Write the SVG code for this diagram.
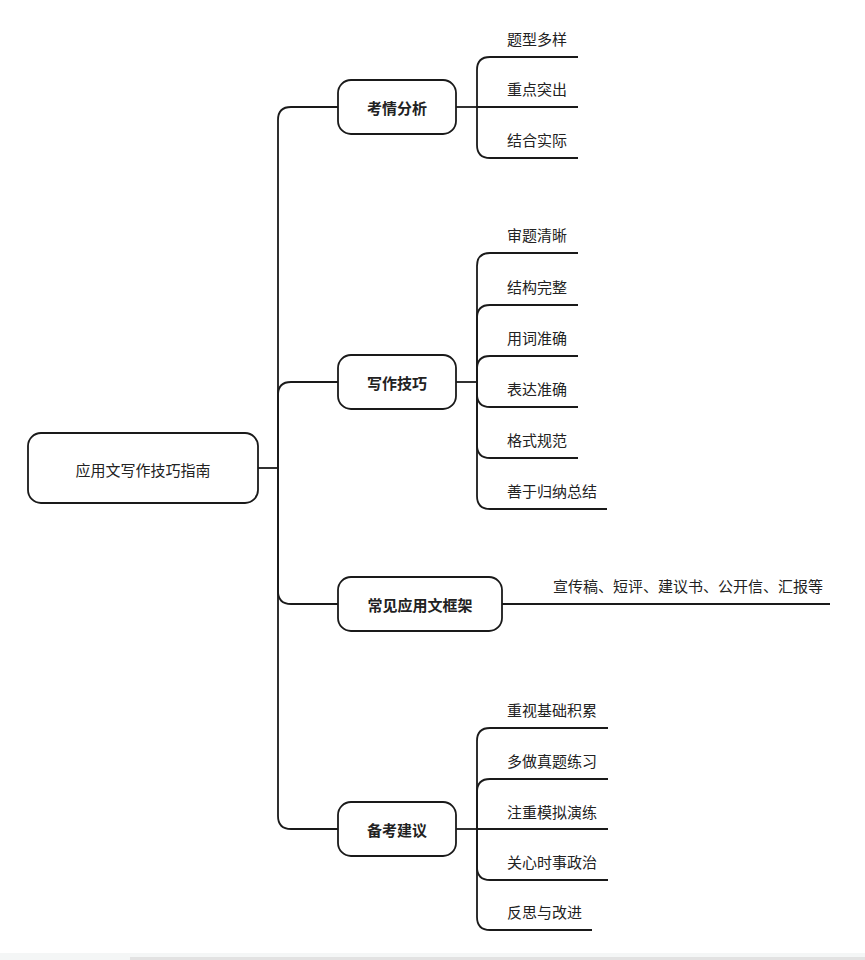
<svg xmlns="http://www.w3.org/2000/svg" width="865" height="960" viewBox="0 0 865 960">
<style>
.box{fill:#fff;stroke:#1a1a1a;stroke-width:1.8}
.ln{fill:none;stroke:#1a1a1a;stroke-width:1.8}
text{font-family:"Noto Sans CJK SC","Noto Sans",sans-serif;font-size:15px;fill:#222;dominant-baseline:central}
.t{text-anchor:middle;font-weight:bold}
.r{text-anchor:middle}
</style>
<rect width="865" height="960" fill="#fff"/>
<g id="connectors">
<path class="ln" d="M258,468 H278"/>
<path class="ln" d="M278,468 V120 Q278,107 291,107 H338"/>
<path class="ln" d="M278,468 V395 Q278,382 291,382 H338"/>
<path class="ln" d="M278,468 V591 Q278,604 291,604 H338"/>
<path class="ln" d="M278,468 V816 Q278,829 291,829 H338"/>
<!-- 考情分析 -->
<path class="ln" d="M456,107 H477"/>
<path class="ln" d="M477,107 V70 Q477,57 490,57 H578"/>
<path class="ln" d="M477,107 H578"/>
<path class="ln" d="M477,107 V145 Q477,158 490,158 H578"/>
<!-- 写作技巧 -->
<path class="ln" d="M456,382 H477"/>
<path class="ln" d="M477,382 V266 Q477,253 490,253 H578"/>
<path class="ln" d="M477,382 V318 Q477,305 490,305 H578"/>
<path class="ln" d="M477,382 V369 Q477,356 490,356 H578"/>
<path class="ln" d="M477,382 V394 Q477,407 490,407 H578"/>
<path class="ln" d="M477,382 V445 Q477,458 490,458 H578"/>
<path class="ln" d="M477,382 V496 Q477,509 490,509 H607"/>
<!-- 常见应用文框架 -->
<path class="ln" d="M502,604 H830"/>
<!-- 备考建议 -->
<path class="ln" d="M456,829 H477"/>
<path class="ln" d="M477,829 V741 Q477,728 490,728 H608"/>
<path class="ln" d="M477,829 V792 Q477,779 490,779 H608"/>
<path class="ln" d="M477,829 H608"/>
<path class="ln" d="M477,829 V867 Q477,880 490,880 H608"/>
<path class="ln" d="M477,829 V917 Q477,930 490,930 H592"/>
</g>
<g id="root"><rect class="box" x="28" y="433" width="230" height="70" rx="13"/><text class="r" x="143" y="469">应用文写作技巧指南</text></g>
<g id="n1"><rect class="box" x="338" y="80" width="118" height="54" rx="13"/><text class="t" x="397" y="107">考情分析</text></g>
<g id="n2"><rect class="box" x="338" y="355" width="118" height="54" rx="13"/><text class="t" x="397" y="382">写作技巧</text></g>
<g id="n3"><rect class="box" x="338" y="577" width="164" height="54" rx="13"/><text class="t" x="420" y="604">常见应用文框架</text></g>
<g id="n4"><rect class="box" x="338" y="802" width="118" height="54" rx="13"/><text class="t" x="397" y="829">备考建议</text></g>
<g id="c1"><text x="507" y="38">题型多样</text></g>
<g id="c2"><text x="507" y="88">重点突出</text></g>
<g id="c3"><text x="507" y="139">结合实际</text></g>
<g id="c4"><text x="507" y="234">审题清晰</text></g>
<g id="c5"><text x="507" y="286">结构完整</text></g>
<g id="c6"><text x="507" y="337">用词准确</text></g>
<g id="c7"><text x="507" y="388">表达准确</text></g>
<g id="c8"><text x="507" y="439">格式规范</text></g>
<g id="c9"><text x="507" y="490">善于归纳总结</text></g>
<g id="c10"><text x="553" y="585">宣传稿、短评、建议书、公开信、汇报等</text></g>
<g id="c11"><text x="507" y="709">重视基础积累</text></g>
<g id="c12"><text x="507" y="760">多做真题练习</text></g>
<g id="c13"><text x="507" y="811">注重模拟演练</text></g>
<g id="c14"><text x="507" y="861">关心时事政治</text></g>
<g id="c15"><text x="507" y="911">反思与改进</text></g>
<rect x="0" y="953" width="865" height="7" fill="#f4f6f6"/>
<rect x="130" y="957" width="735" height="3" fill="#e2e2e2"/>
</svg>
